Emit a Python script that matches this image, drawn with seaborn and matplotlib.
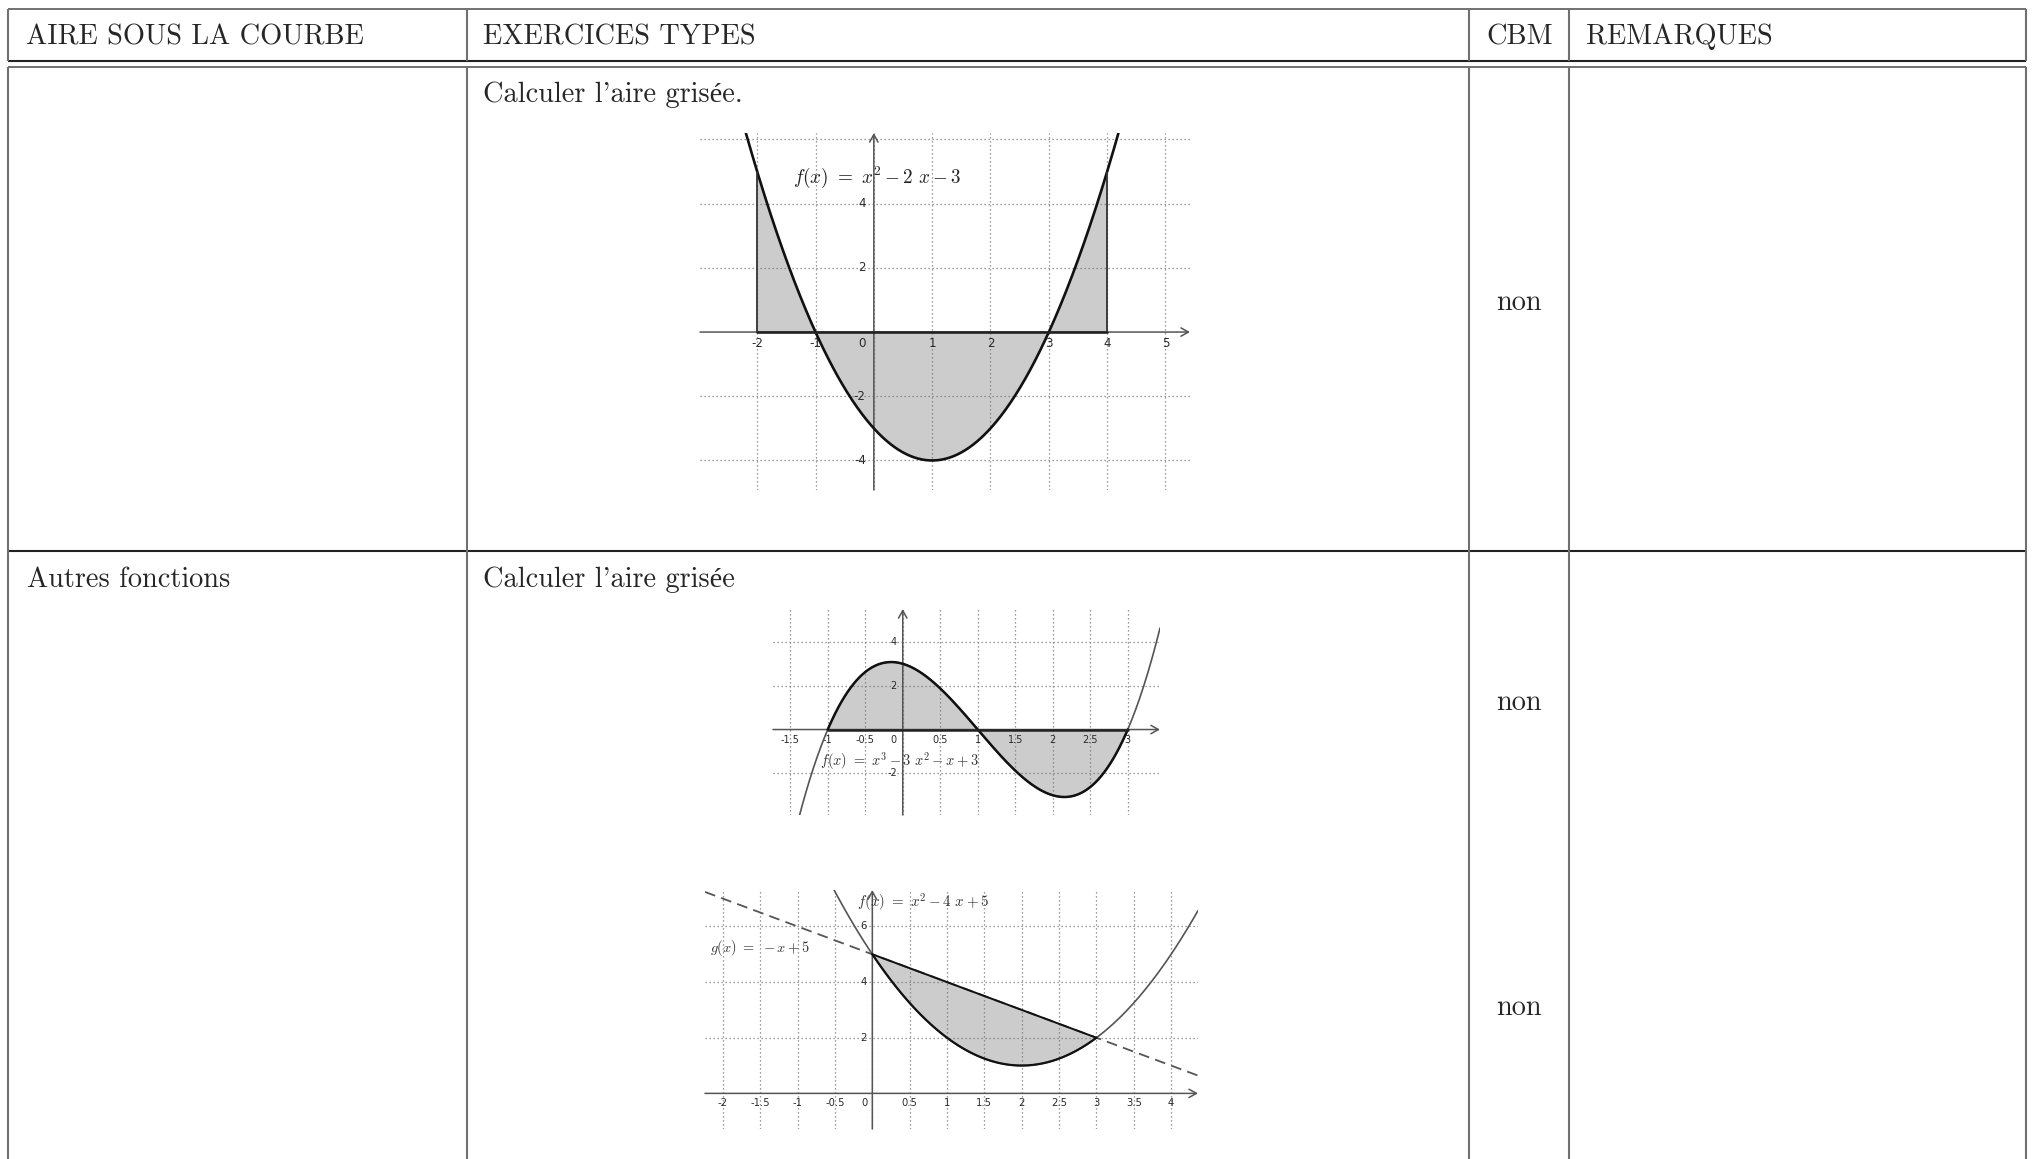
"""Table 'AIRE SOUS LA COURBE' with three GeoGebra-like area plots."""
import numpy as np
import matplotlib
matplotlib.use("Agg")
import matplotlib.pyplot as plt
import seaborn as sns

W, H = 2033, 1159

# --- table content ---
headers = ["AIRE SOUS LA COURBE", "EXERCICES TYPES", "CBM", "REMARQUES"]
row_titles = ["", "Autres fonctions"]
row_tasks = ["Calculer l'aire grisée.", "Calculer l'aire grisée"]
cbm_answers = ["non", "non", "non"]

# --- plot 1 : f(x) = x^2 - 2x - 3 ---
f1_coefs = [1, -2, -3]
f1_bounds = [-2, 4]
f1_label = r"$f(x)\ =\ x^2 - 2\ x - 3$"
p1_xgrid = [-2, -1, 0, 1, 2, 3, 4, 5]
p1_ygrid = [-4, -2, 2, 4, 6]
p1_xlabels = [-2, -1, 1, 2, 3, 4, 5]
p1_ylabels = [-4, -2, 2, 4]

# --- plot 2 : f(x) = x^3 - 3x^2 - x + 3 ---
f2_coefs = [1, -3, -1, 3]
f2_bounds = [-1, 3]
f2_label = r"$f(x)\ =\ x^3 - 3\ x^2 - x + 3$"
p2_xgrid = [-1.5, -1, -0.5, 0, 0.5, 1, 1.5, 2, 2.5, 3]
p2_ygrid = [-2, 2, 4]
p2_xlabels = [-1.5, -1, -0.5, 0.5, 1, 1.5, 2, 2.5, 3]
p2_ylabels = [-2, 2, 4]

# --- plot 3 : f(x) = x^2 - 4x + 5 and g(x) = -x + 5 ---
f3_coefs = [1, -4, 5]
g3_coefs = [-1, 5]
f3_bounds = [0, 3]
f3_label = r"$f(x)\ =\ x^2 - 4\ x + 5$"
g3_label = r"$g(x)\ =\ -x + 5$"
p3_xgrid = [-2, -1.5, -1, -0.5, 0, 0.5, 1, 1.5, 2, 2.5, 3, 3.5, 4]
p3_ygrid = [2, 4, 6]
p3_xlabels = [-2, -1.5, -1, -0.5, 0.5, 1, 1.5, 2, 2.5, 3, 3.5, 4]
p3_ylabels = [2, 4, 6]

sns.set_theme(style="white")
plt.rcParams["mathtext.fontset"] = "cm"
plt.rcParams["font.family"] = ["cmr10", "Liberation Serif"]

SHADE = "#cccccc"
AXC = "#555555"
GRIDC = "#7a7a7a"
TXT = ["cmr10", "Liberation Serif"]
TS = 20.4

fig = plt.figure(figsize=(W / 100, H / 100), dpi=100)
fig.patch.set_facecolor("white")


def px_axes(x0, x1, y0, y1):
    return fig.add_axes([x0 / W, 1 - y1 / H, (x1 - x0) / W, (y1 - y0) / H])


def panel(ax, xlim, ylim, xgrid, ygrid, xlabels, ylabels, fs, xoff, yoff, zoff):
    ax.set_xlim(*xlim)
    ax.set_ylim(*ylim)
    ax.set_facecolor("none")
    for s in ax.spines.values():
        s.set_visible(False)
    ax.set_xticks(xgrid)
    ax.set_yticks(ygrid)
    ax.tick_params(length=0, labelbottom=False, labelleft=False)
    ax.grid(True, color=GRIDC, linestyle=(0, (1, 2.2)), linewidth=0.9)
    ax.set_axisbelow(False)
    arrow = dict(arrowstyle="->,head_length=0.45,head_width=0.25", color=AXC,
                 lw=1.1, shrinkA=0, shrinkB=0)
    ax.annotate("", xy=(xlim[1], 0), xytext=(xlim[0], 0), arrowprops=arrow, zorder=3)
    ax.annotate("", xy=(0, ylim[1]), xytext=(0, ylim[0]), arrowprops=arrow, zorder=3)
    for v in xlabels:
        ax.annotate(f"{v:g}", xy=(v, 0), xytext=(0, -xoff), textcoords="offset points",
                    ha="center", va="center", fontsize=fs, family="DejaVu Sans", color="#2a2a2a")
    for v in ylabels:
        ax.annotate(f"{v:g}", xy=(0, v), xytext=(-yoff, 0), textcoords="offset points",
                    ha="right", va="center", fontsize=fs, family="DejaVu Sans", color="#2a2a2a")
    ax.annotate("0", xy=(0, 0), xytext=(-zoff, -xoff), textcoords="offset points",
                ha="center", va="center", fontsize=fs, family="DejaVu Sans", color="#2a2a2a")


def curve(ax, coefs, lo, hi, color, lw, **kw):
    xs = np.linspace(lo, hi, 500)
    sns.lineplot(x=xs, y=np.polyval(coefs, xs), ax=ax, color=color, lw=lw,
                 estimator=None, sort=False, legend=False, zorder=3, **kw)
    return xs


# ---------------- table ----------------
tab = fig.add_axes([0, 0, 1, 1])
tab.set_xlim(0, W)
tab.set_ylim(H, 0)
tab.axis("off")

cols = [8, 466.7, 1469, 1569, 2026]
VC = "#707070"
# header box
tab.hlines(9, cols[0], cols[-1], color="#666666", lw=1.3)
tab.hlines(60.7, cols[0], cols[-1], color="#222222", lw=1.5)
tab.vlines(cols, 9, 60.7, color=VC, lw=1.5)
# body
tab.hlines(67.3, cols[0], cols[-1], color="#666666", lw=1.3)
tab.hlines(551, cols[0], cols[-1], color="#222222", lw=1.5)
tab.vlines(cols, 67.3, H, color=VC, lw=1.5)

head_x = [26, 483, 1486, 1586]
for hx, txt in zip(head_x, headers):
    tab.text(hx, 44.3, txt, fontsize=TS, family=TXT, va="baseline", ha="left")

row_base = [101.7, 587]
for yb, title, task in zip(row_base, row_titles, row_tasks):
    tab.text(27, yb, title, fontsize=TS, family=TXT, va="baseline")
    tab.text(483, yb, task, fontsize=TS, family=TXT, va="baseline")

non_base = [310, 710, 1015]
for yb, ans in zip(non_base, cbm_answers):
    tab.text((cols[2] + cols[3]) / 2, yb, ans, fontsize=TS, family=TXT,
             va="baseline", ha="center")

# ---------------- plot 1 ----------------
ax1 = px_axes(700, 1190, 133, 490)
panel(ax1, (-2.98, 5.42), (-4.92, 6.2), p1_xgrid, p1_ygrid, p1_xlabels, p1_ylabels,
      8.6, 8.6, 5.8, 8.6)
xs = np.linspace(f1_bounds[0], f1_bounds[1], 400)
ax1.fill_between(xs, np.polyval(f1_coefs, xs), 0, color=SHADE, lw=0, zorder=1)
curve(ax1, f1_coefs, -2.98, 5.42, "#111111", 1.9)
ax1.plot(f1_bounds, [0, 0], color="#222222", lw=1.9, zorder=3)
ax1.vlines(f1_bounds, 0, np.polyval(f1_coefs, f1_bounds), color="#333333", lw=1.3, zorder=3)
ax1.text(-1.39, 4.83, f1_label, fontsize=13.8, color="#222222", va="center", ha="left")

# ---------------- plot 2 ----------------
ax2 = px_axes(773, 1160, 609, 815)
panel(ax2, (-1.73, 3.43), (-3.9, 5.5), p2_xgrid, p2_ygrid, p2_xlabels, p2_ylabels,
      7.0, 7.2, 4.3, 6.5)
xs = np.linspace(f2_bounds[0], f2_bounds[1], 400)
ax2.fill_between(xs, np.polyval(f2_coefs, xs), 0, color=SHADE, lw=0, zorder=1)
curve(ax2, f2_coefs, -1.73, 3.43, "#555555", 1.2)
curve(ax2, f2_coefs, f2_bounds[0], f2_bounds[1], "#111111", 1.8)
ax2.plot(f2_bounds, [0, 0], color="#222222", lw=1.8, zorder=3)
ax2.text(-1.10, -1.42, f2_label, fontsize=10.4, color="#333333", va="center", ha="left")

# ---------------- plot 3 ----------------
ax3 = px_axes(705, 1198, 890, 1129)
panel(ax3, (-2.24, 4.36), (-1.28, 7.31), p3_xgrid, p3_ygrid, p3_xlabels, p3_ylabels,
      7.2, 7.2, 4.3, 5.8)
xs = np.linspace(f3_bounds[0], f3_bounds[1], 400)
ax3.fill_between(xs, np.polyval(f3_coefs, xs), np.polyval(g3_coefs, xs),
                 color=SHADE, lw=0, zorder=1)
curve(ax3, f3_coefs, -2.24, 4.36, "#555555", 1.2)
curve(ax3, g3_coefs, -2.24, 4.36, "#555555", 1.3, linestyle=(0, (6, 3.5)))
curve(ax3, f3_coefs, f3_bounds[0], f3_bounds[1], "#111111", 1.6)
curve(ax3, g3_coefs, f3_bounds[0], f3_bounds[1], "#111111", 1.4)
ax3.text(-0.21, 6.83, f3_label, fontsize=10.8, color="#333333", va="center", ha="left")
ax3.text(-2.17, 5.22, g3_label, fontsize=10.3, color="#333333", va="center", ha="left")

fig.savefig("out.png", dpi=100)
plt.close(fig)
